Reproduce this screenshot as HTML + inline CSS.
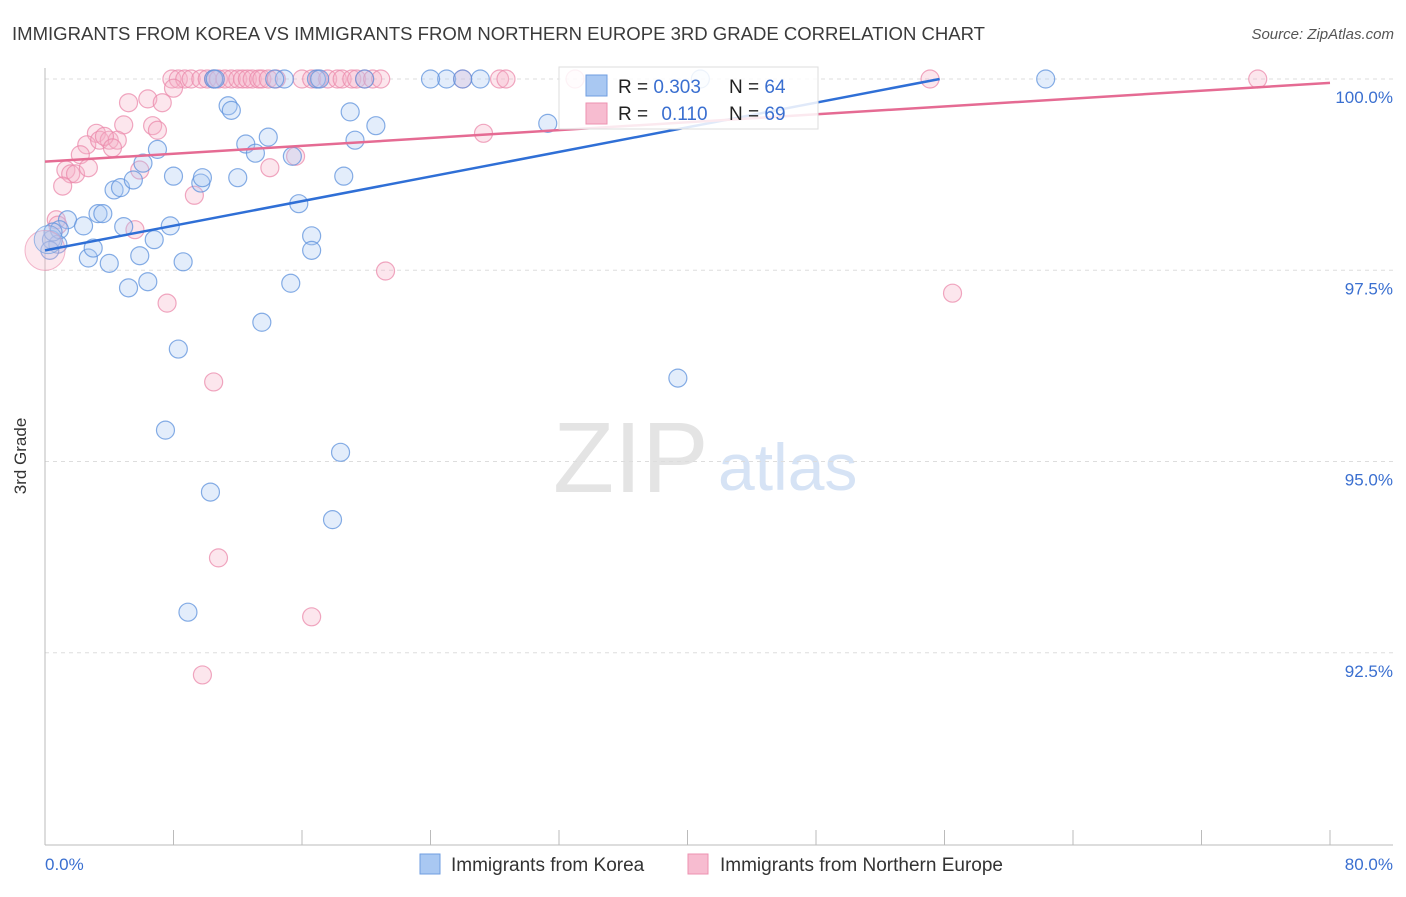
<!DOCTYPE html>
<html><head><meta charset="utf-8"><style>
body{margin:0;background:#fff;font-family:"Liberation Sans",sans-serif;}
svg text{font-family:"Liberation Sans",sans-serif;}
</style></head><body>
<svg width="1406" height="892" viewBox="0 0 1406 892">
<text x="12" y="40" font-size="18.55" fill="#3a3a3a">IMMIGRANTS FROM KOREA VS IMMIGRANTS FROM NORTHERN EUROPE 3RD GRADE CORRELATION CHART</text>
<text x="1394" y="39" font-size="15" fill="#555" font-style="italic" text-anchor="end">Source: ZipAtlas.com</text>
<g>
<text x="553" y="492" font-size="100" font-family="Liberation Serif,serif" fill="#e4e4e4">ZIP</text>
<text x="718" y="490" font-size="66" fill="#d6e3f5">atlas</text>
</g>
<g id="grid"></g>
<g id="axes"></g>
<text x="26" y="456" font-size="17" fill="#333" transform="rotate(-90 26 456)" text-anchor="middle">3rd Grade</text>
<g id="pts"></g>
<g id="lines"></g>
<g>
<rect x="559" y="67" width="259" height="62" fill="#fff" fill-opacity="0.85" stroke="#ddd"/>
<rect x="586" y="75" width="21" height="21" fill="#a9c8f2" stroke="#6f9ee0"/>
<rect x="586" y="103" width="21" height="21" fill="#f7bcd0" stroke="#ec92b0"/>
<text x="618" y="93" font-size="19" fill="#222">R = <tspan fill="#3a6fd0">0.303</tspan></text>
<text x="729" y="93" font-size="19" fill="#222">N = <tspan fill="#3a6fd0">64</tspan></text>
<text x="618" y="120" font-size="19" fill="#222">R = <tspan fill="#3a6fd0" dx="8">0.110</tspan></text>
<text x="729" y="120" font-size="19" fill="#222">N = <tspan fill="#3a6fd0">69</tspan></text>
</g>
<g>
<rect x="420" y="854" width="20" height="20" fill="#a9c8f2" stroke="#6f9ee0"/>
<text x="451" y="871" font-size="19" fill="#333">Immigrants from Korea</text>
<rect x="688" y="854" width="20" height="20" fill="#f7bcd0" stroke="#ec92b0"/>
<text x="720" y="871" font-size="19" fill="#333">Immigrants from Northern Europe</text>
</g>
</svg>
<script>
const xTicks=[0,8,16,24,32,40,48,56,64,72,80];
const yTicks=[100,97.5,95,92.5];
const yTickLabels=["100.0%","97.5%","95.0%","92.5%"];
const koreaX=[0.4,0.8,1.4,2.4,2.7,3.0,3.3,3.6,4.0,4.3,4.7,4.9,5.2,5.5,5.9,6.1,6.4,6.8,7.0,7.8,8.0,8.3,8.6,7.5,8.9,9.7,9.8,10.3,10.5,11.4,11.6,12.0,12.5,13.1,13.5,13.9,14.9,15.3,15.4,15.8,16.6,16.6,16.9,17.1,17.9,18.4,18.6,19.0,19.3,19.9,20.6,25.0,26.0,27.1,31.3,39.4,62.3,40.8,0.9,0.3,0.5,24.0,14.3,10.6];
const koreaY=[97.9,97.84,98.16,98.08,97.66,97.79,98.24,98.24,97.59,98.55,98.58,98.07,97.27,98.68,97.69,98.9,97.35,97.9,99.08,98.08,98.73,96.47,97.61,95.41,93.03,98.64,98.71,94.6,100,99.65,99.59,98.71,99.15,99.03,96.82,99.24,100,97.33,98.99,98.37,97.95,97.76,100,100,94.24,95.12,98.73,99.57,99.2,100,99.39,100,100,100,99.42,96.09,100,100,98.03,97.76,98.0,100,100,100];
const euroX=[7.9,8.3,8.7,9.1,9.7,10.1,10.5,10.8,11.2,11.6,12.0,12.3,12.6,12.9,13.3,13.5,13.9,14.4,16.0,16.6,17.0,17.6,18.2,18.5,19.1,19.4,19.9,20.4,20.9,26.0,28.3,28.7,33.0,55.1,75.5,8.0,5.2,6.4,7.3,3.2,4.9,6.7,7.0,2.6,3.4,4.0,4.5,3.7,4.2,2.2,1.3,1.6,1.9,2.7,1.1,5.9,9.3,5.6,14.0,15.6,7.6,21.2,56.5,10.5,10.8,16.6,9.8,27.3,0.7,0.8];
const euroY=[100,100,100,100,100,100,100,100,100,100,100,100,100,100,100,100,100,100,100,100,100,100,100,100,100,100,100,100,100,100,100,100,100,100,100,99.88,99.69,99.74,99.69,99.29,99.4,99.39,99.33,99.14,99.2,99.2,99.2,99.25,99.1,99.01,98.81,98.76,98.76,98.84,98.6,98.81,98.48,98.03,98.84,98.99,97.07,97.49,97.2,96.04,93.74,92.97,92.21,99.29,98.16,98.09];
const koreaTrend=[97.76,100,55.7];
const euroTrend=[98.92,99.95];
const NS="http://www.w3.org/2000/svg";
const X0=45,X1=1330,YT=79;
function sx(v){return X0+v*(X1-X0)/80;}
function sy(v){return YT+(100-v)*76.5;}
function mk(tag,attrs,parent){const e=document.createElementNS(NS,tag);for(const k in attrs)e.setAttribute(k,attrs[k]);parent.appendChild(e);return e;}
const grid=document.getElementById('grid'),axes=document.getElementById('axes'),pts=document.getElementById('pts'),lines=document.getElementById('lines');
yTicks.forEach((t,i)=>{
 const l=mk('line',{x1:X0,x2:1393,y1:sy(t),y2:sy(t),stroke:'#ddd','stroke-dasharray':'4,4'},grid);
 
 
 const tx=mk('text',{x:1393,y:sy(t)+24,'font-size':17,fill:'#3a6fd0','text-anchor':'end'},grid);
 tx.textContent=yTickLabels[i];
 
 
});
const ya=mk('line',{x1:X0,x2:X0,y1:68,y2:845,stroke:'#bbb'},axes);


const xa=mk('line',{x1:X0,x2:1393,y1:845,y2:845,stroke:'#bbb'},axes);


xTicks.forEach(t=>{
 const l=mk('line',{x1:sx(t),x2:sx(t),y1:830,y2:845,stroke:'#bbb'},axes);
 
 
});
const xl0=mk('text',{x:45,y:870,'font-size':17,fill:'#3a6fd0'},axes);xl0.textContent='0.0%';


const xl1=mk('text',{x:1393,y:870,'font-size':17,fill:'#3a6fd0','text-anchor':'end'},axes);xl1.textContent='80.0%';


function drawPts(xs,ys,fill,stroke,name){
 xs.forEach((x,i)=>{
  const c=mk('circle',{cx:sx(x),cy:sy(ys[i]),r:9,fill:fill,'fill-opacity':0.33,stroke:stroke,'stroke-opacity':0.75,'stroke-width':1.2},pts);
  
  
 });
}
drawPts(euroX,euroY,'#f7b2c8','#eb8aab','point-northern-europe');
drawPts(koreaX,koreaY,'#a9c8f2','#5d92dc','point-korea');
const big1=mk('circle',{cx:sx(0),cy:sy(97.76),r:20,fill:'#f7b2c8','fill-opacity':0.3,stroke:'#eb8aab','stroke-opacity':0.6},pts);


const big2=mk('circle',{cx:sx(0.2),cy:sy(97.9),r:14,fill:'#a9c8f2','fill-opacity':0.35,stroke:'#5d92dc','stroke-opacity':0.6},pts);


const kl=mk('line',{x1:sx(0),y1:sy(koreaTrend[0]),x2:sx(koreaTrend[2]),y2:sy(koreaTrend[1]),stroke:'#2f6fd6','stroke-width':2.5},lines);


const el=mk('line',{x1:sx(0),y1:sy(euroTrend[0]),x2:sx(80),y2:sy(euroTrend[1]),stroke:'#e56b93','stroke-width':2.5},lines);


</script>
</body></html>
